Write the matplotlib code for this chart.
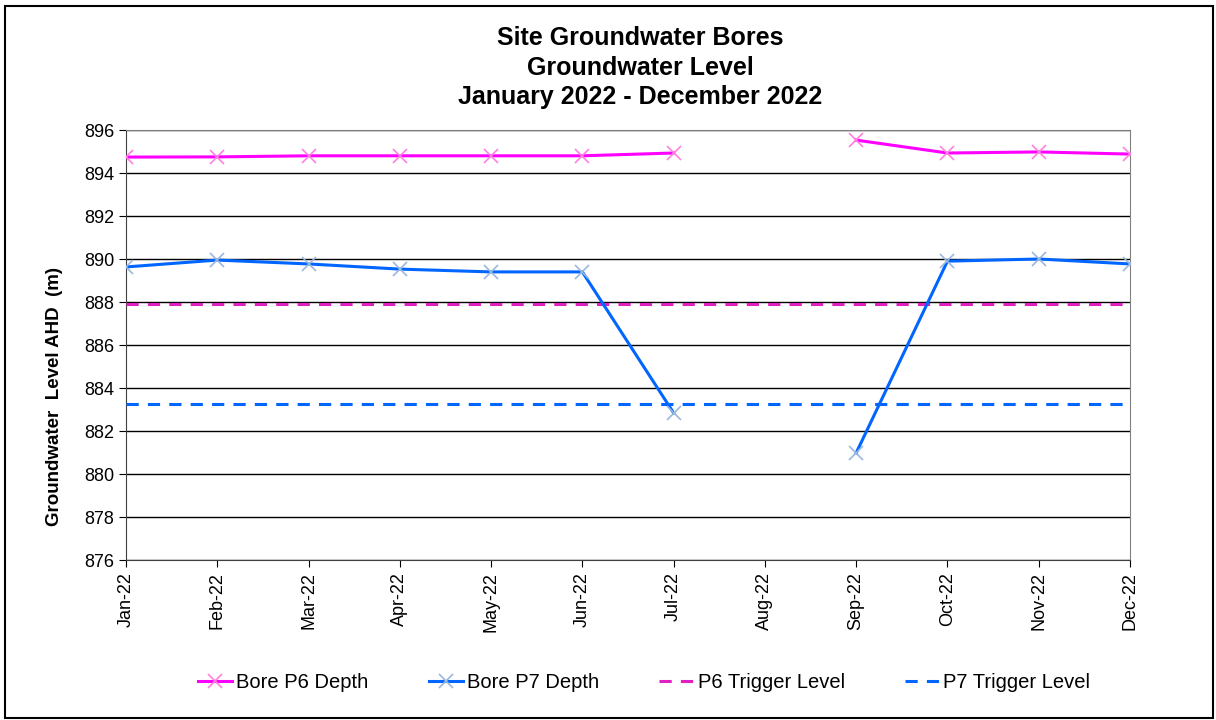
import numpy as np
import matplotlib
matplotlib.use("Agg")
import matplotlib.pyplot as plt
from matplotlib.patches import Rectangle

plt.rcParams["font.family"] = ["Liberation Sans", "DejaVu Sans"]

months = ["Jan-22", "Feb-22", "Mar-22", "Apr-22", "May-22", "Jun-22",
          "Jul-22", "Aug-22", "Sep-22", "Oct-22", "Nov-22", "Dec-22"]
p6_depth = [894.74, 894.75, 894.80, 894.80, 894.80, 894.80,
            894.93, np.nan, 895.53, 894.93, 894.98, 894.88]
p7_depth = [889.63, 889.95, 889.77, 889.53, 889.40, 889.40,
            882.84, np.nan, 880.98, 889.90, 890.00, 889.77]
p6_trigger = 887.9
p7_trigger = 883.26

x = np.arange(len(months))

fig = plt.figure(figsize=(12.16, 7.2), dpi=100)
ax = fig.add_axes([126/1216, 1-560/720, (1130-126)/1216, 430/720])

ax.plot(x, p6_depth, color="#FF00FF", linewidth=2.2, marker="x", markersize=10,
        markeredgecolor="#FF80E0", markeredgewidth=1.2, label="Bore P6 Depth", zorder=4)
ax.plot(x, p7_depth, color="#0066FF", linewidth=2.2, marker="x", markersize=10,
        markeredgecolor="#99B8E0", markeredgewidth=1.2, label="Bore P7 Depth", zorder=4)
ax.plot(x, [p6_trigger]*len(x), color="#E020C0", linewidth=2.2, dashes=(4, 3),
        label="P6 Trigger Level", zorder=3)
ax.plot(x, [p7_trigger]*len(x), color="#0066FF", linewidth=2.2, dashes=(4, 3),
        label="P7 Trigger Level", zorder=3)

ax.set_xlim(0, len(months)-1)
ax.set_ylim(876, 896)
ax.set_yticks(np.arange(876, 897, 2))
ax.set_xticks(x)
ax.set_xticklabels(months, rotation=90, fontsize=13)
ax.tick_params(axis="y", labelsize=13, length=5, direction="out")
ax.tick_params(axis="x", length=5, direction="out")
ax.yaxis.grid(True, color="black", linewidth=1)
ax.set_axisbelow(True)
for s in ["top", "right"]:
    ax.spines[s].set_color("#808080")
ax.spines["left"].set_color("#404040")
ax.spines["bottom"].set_color("#404040")

ax.set_ylabel("Groundwater  Level AHD  (m)", fontsize=13.5, fontweight="bold")
ax.yaxis.set_label_coords((63-126)/1004, (560-396)/430)

for txt, yp in [("Site Groundwater Bores", 38),
                ("Groundwater Level", 68),
                ("January 2022 - December 2022", 97)]:
    fig.text(640/1216, 1-yp/720, txt, ha="center", va="center",
             fontsize=18, fontweight="bold")

fig.legend(loc="center", bbox_to_anchor=(644/1216, 1-683/720), ncol=4, frameon=False,
           fontsize=14.5, columnspacing=3.0, handlelength=1.7, handletextpad=0.2)

fig.patches.append(Rectangle((5/1216, 2/720), 1208/1216, 712/720, transform=fig.transFigure,
                             fill=False, edgecolor="black", linewidth=1.5))

fig.savefig("out.png", dpi=100)
